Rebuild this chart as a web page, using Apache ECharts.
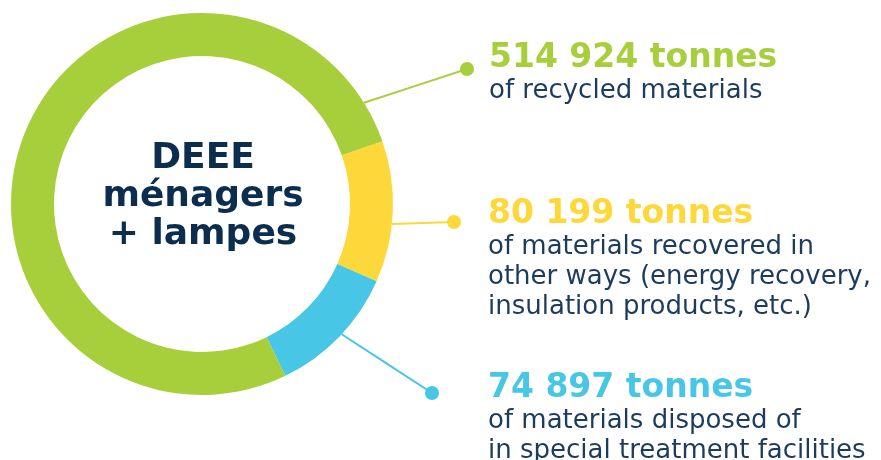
<!DOCTYPE html>
<html><head><meta charset="utf-8">
<script src="https://cdn.jsdelivr.net/npm/echarts@6/dist/echarts.min.js"></script>
<style>html,body{margin:0;padding:0;background:#fff}#c{width:881px;height:460px}</style>
</head><body><div id="c"></div>
<script>
// ---- data ----
const categories = ['other recovery', 'special treatment', 'recycled'];
const tonnes = [80199, 74897, 514924];
const descriptions = [
  ['of materials recovered in', 'other ways (energy recovery,', 'insulation products, etc.)'],
  ['of materials disposed of', 'in special treatment facilities'],
  ['of recycled materials']
];
const centerLines = ['DEEE', 'ménagers', '+ lampes'];

// ---- styles / layout ----
const colors = ['#FDD83A', '#47C6E6', '#A7CE3B'];
const navy = '#0C2E4E';
const subNavy = '#1C3B5E';
const cx = 202, cy = 204, rIn = 148, rOut = 191;
// leader line: angle on ring (deg), dot position, label top-left
const annot = [
  { ang: -6, dot: [454, 222], label: [488, 196] },
  { ang: -43, dot: [432, 393], label: [488, 370] },
  { ang: 32, dot: [467, 69], label: [489, 40] }
];
function ringPt(a) {
  const r = a * Math.PI / 180;
  return [cx + rOut * Math.cos(r), cy - rOut * Math.sin(r)];
}
function fmt(v) { return String(v).replace(/\B(?=(\d{3})+(?!\d))/g, ' '); }

const font = "'DejaVu Sans', sans-serif";
const rich = {};
colors.forEach((c, i) => {
  rich['h' + i] = { fontFamily: font, fontWeight: 'bold', fontSize: 33, color: c, lineHeight: 36 };
});
rich.s = { fontFamily: font, fontSize: 26, color: subNavy, lineHeight: 30 };

const chart = echarts.init(document.getElementById('c'), null, { renderer: 'canvas' });
chart.setOption({
  animation: false,
  title: {
    text: centerLines.join('\n'),
    left: cx - 4, top: 135, textAlign: 'center',
    textStyle: { fontFamily: font, fontWeight: 'bold', fontSize: 36, color: navy, lineHeight: 38 }
  },
  series: [{
    type: 'pie',
    center: [cx, cy],
    radius: [rIn, rOut],
    startAngle: 19.2,
    clockwise: true,
    avoidLabelOverlap: false,
    silent: true,
    itemStyle: { borderWidth: 0 },
    data: categories.map((n, i) => ({ name: n, value: tonnes[i], itemStyle: { color: colors[i] } })),
    label: {
      show: true,
      position: 'outside',
      align: 'left',
      formatter: p => `{h${p.dataIndex}|${fmt(p.value)} tonnes}\n` +
        descriptions[p.dataIndex].map(l => `{s|${l}}`).join('\n'),
      rich: rich
    },
    labelLine: { show: true, lineStyle: { width: 2 } },
    labelLayout: p => {
      const a = annot[p.dataIndex];
      const s = ringPt(a.ang);
      return {
        x: a.label[0], y: a.label[1], align: 'left', verticalAlign: 'top',
        labelLinePoints: [s, [(s[0] + a.dot[0]) / 2, (s[1] + a.dot[1]) / 2], a.dot]
      };
    }
  }],
  graphic: annot.map((a, i) => ({
    type: 'circle', z: 100,
    shape: { cx: a.dot[0], cy: a.dot[1], r: 7 },
    style: { fill: colors[i] }
  }))
});
</script></body></html>
